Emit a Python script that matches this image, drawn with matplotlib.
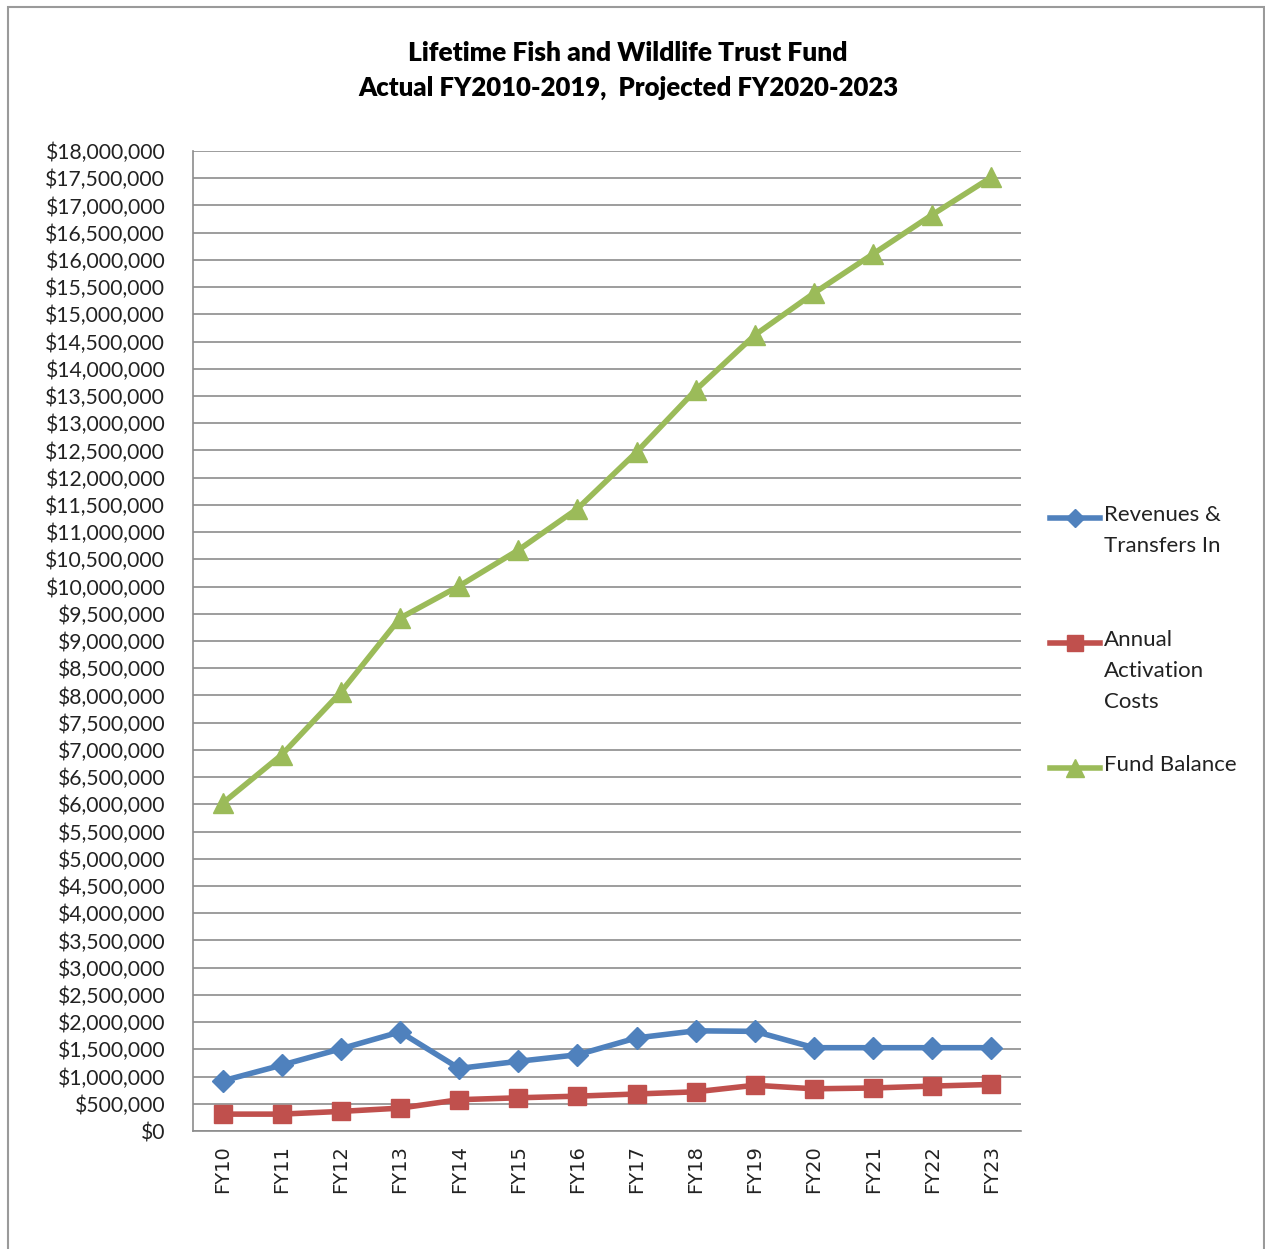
import matplotlib
matplotlib.use("Agg")
import matplotlib.pyplot as plt
from matplotlib.lines import Line2D
from matplotlib.patches import Rectangle
from matplotlib.ticker import FuncFormatter, MultipleLocator

# data
years = ["FY10", "FY11", "FY12", "FY13", "FY14", "FY15", "FY16",
         "FY17", "FY18", "FY19", "FY20", "FY21", "FY22", "FY23"]
revenues = [920000, 1210000, 1510000, 1820000, 1150000, 1280000, 1400000,
            1710000, 1840000, 1830000, 1530000, 1530000, 1530000, 1530000]
activation = [310000, 310000, 360000, 420000, 575000, 610000, 640000,
              680000, 720000, 840000, 775000, 790000, 825000, 855000]
balance = [6020000, 6910000, 8060000, 9420000, 10010000, 10670000, 11430000,
           12470000, 13610000, 14620000, 15390000, 16110000, 16830000, 17520000]

labels = ["Revenues &\nTransfers In", "Annual\nActivation\nCosts", "Fund Balance"]
colors = ["#4F81BD", "#C0504D", "#9BBB59"]
markers = ["D", "s", "^"]
msizes = [11, 13, 15]

font = "Lato"

fig = plt.figure(figsize=(12.65, 12.49), dpi=100)
ax = fig.add_axes([193 / 1265, 1 - 1131 / 1249, 828 / 1265, 980 / 1249])

x = list(range(len(years)))
for vals, c, m, ms in zip([revenues, activation, balance], colors, markers, msizes):
    ax.plot(x, vals, color=c, lw=4, marker=m, markersize=ms,
            markeredgecolor=c, zorder=3)

ax.set_xlim(-0.5, len(years) - 0.5)
ax.set_ylim(0, 18000000)
ax.yaxis.set_major_locator(MultipleLocator(500000))
ax.yaxis.set_major_formatter(FuncFormatter(lambda v, p: "${:,.0f}".format(v)))
ax.set_xticks(x)
ax.set_xticklabels(years, rotation=90, fontsize=14, family="DejaVu Sans",
                   color="#222222")
ax.tick_params(axis="x", length=0, pad=10)
ax.tick_params(axis="y", length=0, pad=20, labelsize=15.2, labelcolor="#222222")
for t in ax.get_yticklabels():
    t.set_family(font)
ax.grid(axis="y", color="#8c8c8c", lw=1.2)
ax.set_axisbelow(True)
for s in ["top", "right"]:
    ax.spines[s].set_visible(False)
for s in ["left", "bottom"]:
    ax.spines[s].set_color("#8c8c8c")
    ax.spines[s].set_linewidth(1.2)

# title
fig.text(628 / 1265, 1 - 53 / 1249, "Lifetime Fish and Wildlife Trust Fund",
         ha="center", va="center", fontsize=19, fontweight="heavy", family=font)
fig.text(628 / 1265, 1 - 88 / 1249, "Actual FY2010-2019,  Projected FY2020-2023",
         ha="center", va="center", fontsize=18.5, fontweight="heavy", family=font)

# legend, drawn by hand so the key sits on the first text line
leg_y = [518, 643, 768]
for yy, lab, c, m, ms in zip(leg_y, labels, colors, markers, msizes):
    fy = 1 - yy / 1249
    fig.add_artist(Line2D([1050 / 1265, 1075 / 1265, 1100 / 1265], [fy, fy, fy],
                          transform=fig.transFigure, color=c, lw=4,
                          marker=m, markersize=ms * 0.85, markevery=[1],
                          markeredgecolor=c))
    fig.text(1104 / 1265, 1 - (yy - 13) / 1249, lab, ha="left", va="top",
             fontsize=16, family=font, color="#222222", linespacing=1.7)

# outer chart border
fig.add_artist(Rectangle((8 / 1265, -0.01), 1256 / 1265, 1 - 7 / 1249 + 0.01,
                         transform=fig.transFigure, fill=False,
                         edgecolor="#9a9a9a", lw=1.5))

fig.savefig("out.png", dpi=100)
